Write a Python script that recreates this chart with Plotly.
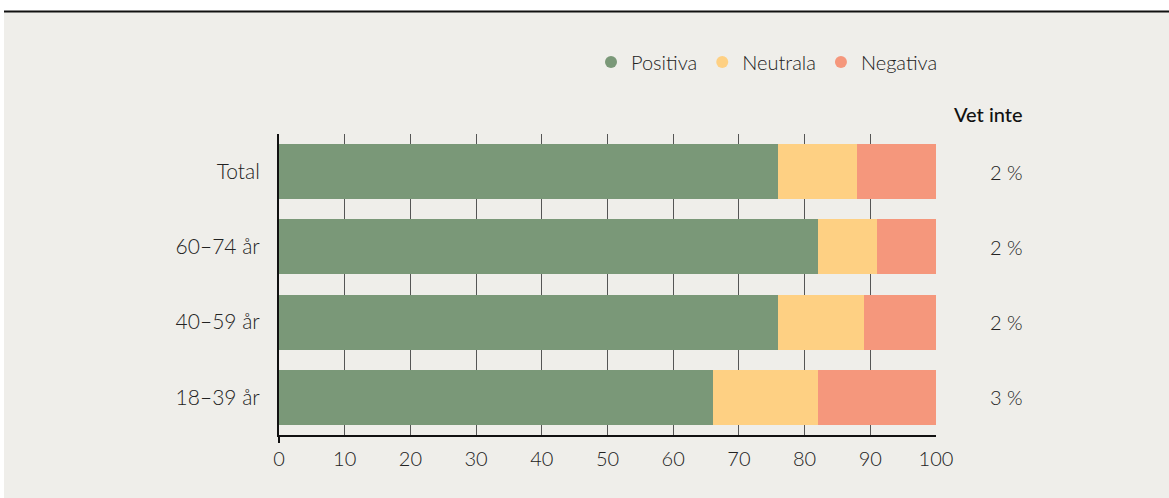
import plotly.graph_objects as go

categories = ["Total", "60–74 år", "40–59 år", "18–39 år"]
positiva = [76, 82, 76, 66]
neutrala = [12, 9, 13, 16]
negativa = [12, 9, 11, 18]
vet_inte = ["2 %", "2 %", "2 %", "3 %"]
series_names = ["Positiva", "Neutrala", "Negativa"]
colors = ["#7a9878", "#fed083", "#f5977c"]
x_ticks = [0, 10, 20, 30, 40, 50, 60, 70, 80, 90, 100]

W, H = 1169, 498
L, R, T, B = 279, 936, 134, 435
BG = "#efeeea"
FONT = "Lato"
TXT = "#222222"

def px_x(p):
    return (p - L) / (R - L)

def px_y(p):
    return (B - p) / (B - T)

fig = go.Figure()
for name, vals, col in zip(series_names, [positiva, neutrala, negativa], colors):
    fig.add_trace(go.Bar(
        y=categories, x=vals, name=name, orientation="h",
        marker=dict(color=col, line=dict(width=0)),
        width=0.73, showlegend=False,
    ))
for name, col in zip(series_names, colors):
    fig.add_trace(go.Scatter(
        x=[None], y=[None], mode="markers", name=name,
        marker=dict(color=col, size=15, symbol="circle"),
    ))

annotations = [dict(
    text="Vet inte", xref="paper", yref="paper",
    x=px_x(1025), y=px_y(114), xanchor="right", yanchor="middle",
    showarrow=False, font=dict(family=FONT, size=20, color="#111111", weight=500),
)]
for cat, v in zip(categories, vet_inte):
    annotations.append(dict(
        text=v, xref="paper", yref="y", x=px_x(1025), y=cat,
        xanchor="right", yanchor="middle", showarrow=False,
        font=dict(family=FONT, size=20, color=TXT, weight=300),
    ))

shapes = [
    dict(type="rect", xref="paper", yref="paper", layer="below",
         x0=px_x(-5), x1=px_x(W + 5), y0=px_y(-5), y1=px_y(11),
         fillcolor="white", line=dict(width=0)),
    dict(type="rect", xref="paper", yref="paper", layer="below",
         x0=px_x(-5), x1=px_x(4), y0=px_y(-5), y1=px_y(H + 5),
         fillcolor="white", line=dict(width=0)),
    dict(type="line", xref="paper", yref="paper",
         x0=px_x(4), x1=px_x(W + 5), y0=px_y(11.5), y1=px_y(11.5),
         line=dict(color="#111111", width=2)),
    dict(type="line", xref="paper", yref="paper",
         x0=0, x1=0, y0=px_y(443), y1=px_y(435),
         line=dict(color="#111111", width=2)),
]

fig.update_layout(
    width=W, height=H,
    margin=dict(l=L, r=W - R, t=T, b=H - B, pad=0),
    paper_bgcolor=BG, plot_bgcolor=BG,
    barmode="stack", bargap=0.27,
    font=dict(family=FONT, size=20, color=TXT, weight=300),
    legend=dict(orientation="h", x=px_x(943), xanchor="right", y=px_y(62), yanchor="middle",
                font=dict(family=FONT, size=20, color=TXT, weight=300),
                itemsizing="constant", itemwidth=30, traceorder="normal",
                bgcolor="rgba(0,0,0,0)"),
    xaxis=dict(range=[0, 100], tickvals=x_ticks, showgrid=True,
               gridcolor="#555555", gridwidth=1, zeroline=False,
               showline=True, linecolor="#111111", linewidth=2,
               ticks="", tickfont=dict(size=20, color=TXT),
               ticklabelstandoff=5, fixedrange=True),
    yaxis=dict(categoryorder="array", categoryarray=categories[::-1],
               range=[-0.5, 3.5], showgrid=False, zeroline=False,
               showline=True, linecolor="#111111", linewidth=2,
               ticks="", ticklabelstandoff=13,
               tickfont=dict(size=21, color=TXT), fixedrange=True),
    annotations=annotations, shapes=shapes,
)
fig.write_html("out.html", config={"displayModeBar": False},
               post_script="document.body.style.margin='0';")
